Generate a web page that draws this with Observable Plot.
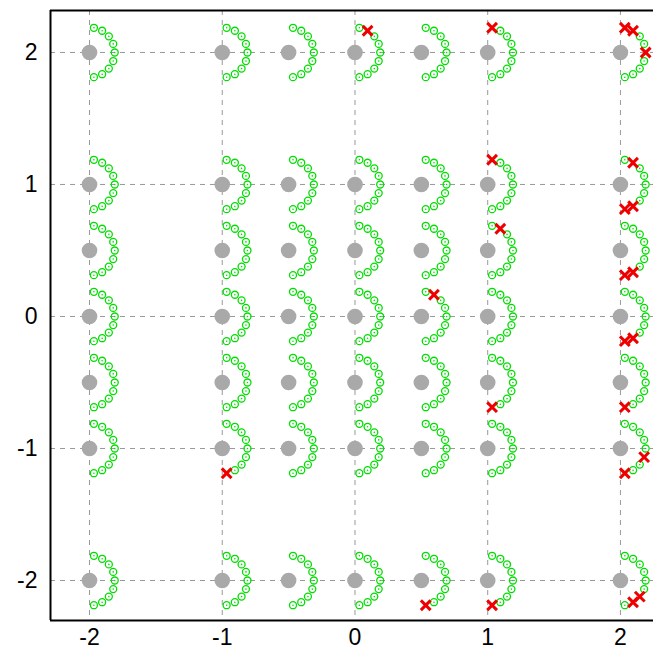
<!DOCTYPE html>
<html>
<head>
<meta charset="utf-8">
<script src="https://cdn.jsdelivr.net/npm/d3@7"></script>
<script src="https://cdn.jsdelivr.net/npm/@observablehq/plot@0.6"></script>
<style>
  html, body { margin: 0; padding: 0; background: #fff; overflow: hidden; }
</style>
</head>
<body>
<div id="chart"></div>
<script>
// Grid of centres
const centerX = [-2, -1, -0.5, 0, 0.5, 1, 2];
const centerY = [2, 1, 0.5, 0, -0.5, -1, -2];
// Angles (degrees) of the probe points on each half-circle
const probeAngles = [80, 60, 40, 20, 0, -20, -40, -60, -80];
const probeRadius = 0.19;
// Flagged probes (red crosses): centre x, centre y, angle
const redCx    = [0, 1, 2, 2, 2, 1, 2, 2, 2, 1, 2, 2, 0.5, 2, 2, 1, 2, -1, 2, 2, 0.5, 1, 2, 2];
const redCy    = [2, 2, 2, 2, 2, 1, 1, 1, 1, 0.5, 0.5, 0.5, 0, 0, 0, -0.5, -0.5, -1, -1, -1, -2, -2, -2, -2];
const redAngle = [60, 80, 80, 60, 0, 80, 60, -60, -80, 60, -60, -80, 60, -60, -80, -80, -80, -80, -20, -80, -80, -80, -40, -60];
// Axis ticks
const tickX = [-2, -1, 0, 1, 2];
const tickY = [-2, -1, 0, 1, 2];
const xDomain = [-2.294, 2.249];
const yDomain = [-2.303, 2.318];

const centers = centerX.flatMap(x => centerY.map(y => ({x, y})));
const redKey = new Set(redCx.map((x, i) => `${x}|${redCy[i]}|${redAngle[i]}`));
const probes = centers.flatMap(c => probeAngles.map(a => ({
  cx: c.x, cy: c.y, a,
  x: c.x + probeRadius * Math.cos(a * Math.PI / 180),
  y: c.y + probeRadius * Math.sin(a * Math.PI / 180),
  red: redKey.has(`${c.x}|${c.y}|${a}`)
})));
const greens = probes.filter(p => !p.red);
const reds = probes.filter(p => p.red);

const font = "'Liberation Sans', Arial, sans-serif";

const chart = Plot.plot({
  width: 653,
  height: 655,
  marginTop: 10,
  marginBottom: 35,
  marginLeft: 50,
  marginRight: 0,
  style: { fontFamily: font, background: "#fff" },
  x: { domain: xDomain },
  y: { domain: yDomain },
  marks: [
    Plot.gridX(tickX, { stroke: "#999", strokeOpacity: 1, strokeDasharray: "5,5" }),
    Plot.gridY(tickY, { stroke: "#999", strokeOpacity: 1, strokeDasharray: "5,5" }),
    Plot.dot(centers, { x: "x", y: "y", r: 7.8, fill: "#a9a9a9", stroke: "none" }),
    Plot.dot(greens, { x: "x", y: "y", r: 3.5, stroke: "#00dd00", strokeWidth: 1.3, fill: "none" }),
    Plot.dot(greens, { x: "x", y: "y", r: 0.8, fill: "#00dd00", stroke: "none" }),
    Plot.dot(reds, { x: "x", y: "y", r: 4.5, symbol: "times", stroke: "#ee0000", strokeWidth: 3 }),
    Plot.ruleX([xDomain[0]], { stroke: "#000", strokeWidth: 2 }),
    Plot.ruleY([yDomain[0], yDomain[1]], { stroke: "#000", strokeWidth: 2 }),
    Plot.axisX(tickX, { tickSize: 0, tickPadding: 8, fontSize: 23, fontFamily: font, fill: "#000", tickFormat: d => String(d), label: null }),
    Plot.axisY(tickY, { tickSize: 0, tickPadding: 13, fontSize: 23, fontFamily: font, fill: "#000", tickFormat: d => String(d), label: null })
  ]
});
document.getElementById("chart").appendChild(chart);
</script>
</body>
</html>
